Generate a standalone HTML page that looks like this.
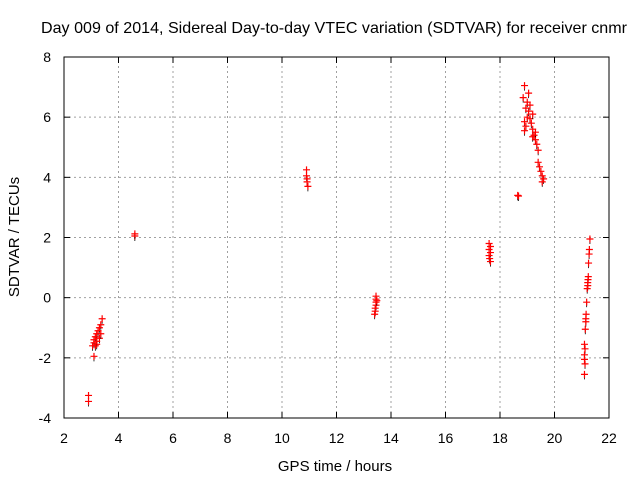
<!DOCTYPE html>
<html><head><meta charset="utf-8"><style>
body{margin:0;background:#fff;}
svg{display:block;font-family:"Liberation Sans",sans-serif;}
</style></head><body>
<svg id="chart" width="640" height="480" xmlns="http://www.w3.org/2000/svg">
<rect width="640" height="480" fill="#fff"/>
<text x="41" y="33" font-size="16" textLength="586" lengthAdjust="spacingAndGlyphs">Day 009 of 2014, Sidereal Day-to-day VTEC variation (SDTVAR) for receiver cnmr</text>
<g id="grid"></g>
<g id="ticks"></g>
<g id="pts"></g>
<rect x="64" y="57" width="545" height="361" fill="none" stroke="#000" stroke-width="1"/>
<text x="335" y="471" font-size="15" text-anchor="middle">GPS time / hours</text>
<text x="19" y="237" font-size="15" text-anchor="middle" transform="rotate(-90 19 237)">SDTVAR / TECUs</text>
</svg>
<script>
const xTicks=[2,4,6,8,10,12,14,16,18,20,22];
const yTicks=[-4,-2,0,2,4,6,8];
const timeHours=[2.9,2.9,3.1,3.05,3.1,3.1,3.15,3.2,3.2,3.25,3.3,3.3,3.35,3.4,3.35,3.2,3.15,
4.6,4.6,
10.9,10.9,10.92,10.92,10.95,
13.45,13.45,13.45,13.45,13.42,13.42,13.4,13.48,
17.6,17.65,17.6,17.65,17.6,17.62,17.65,
18.65,18.68,
18.9,18.85,19.0,18.95,19.05,19.1,19.0,18.9,18.95,18.9,19.1,19.15,19.2,19.2,19.25,19.3,19.35,19.4,19.4,19.45,19.5,19.55,19.6,19.55,19.05,19.2,19.3,
21.3,21.28,21.27,21.25,21.24,21.23,21.22,21.22,21.2,21.18,21.16,21.15,21.15,21.13,21.1,21.12,21.1,21.1,21.12,21.1];
const sdtvar=[-3.25,-3.45,-1.95,-1.6,-1.5,-1.4,-1.3,-1.55,-1.2,-1.1,-1.35,-1.0,-0.9,-0.7,-1.2,-1.45,-1.6,
2.05,2.12,
4.25,4.05,3.95,3.85,3.7,
0.05,-0.05,-0.15,-0.25,-0.35,-0.45,-0.55,-0.1,
1.8,1.7,1.6,1.5,1.4,1.3,1.2,
3.4,3.38,
7.05,6.65,6.5,6.3,6.2,6.4,6.0,5.85,5.7,5.55,5.95,5.8,6.1,5.6,5.4,5.25,5.1,4.9,4.5,4.35,4.2,4.05,3.95,3.85,6.8,5.35,5.5,
1.95,1.6,1.45,1.15,0.7,0.6,0.5,0.4,0.3,-0.15,-0.55,-0.7,-0.8,-1.05,-1.55,-1.7,-1.9,-2.05,-2.2,-2.55];
const NS="http://www.w3.org/2000/svg";
const X0=64,X1=609,Y0=418,Y1=57;
function sx(v){return X0+(v-2)/20*(X1-X0);}
function sy(v){return Y0-(v+4)/12*(Y0-Y1);}
function mk(tag,attrs,parent){const e=document.createElementNS(NS,tag);for(const k in attrs)e.setAttribute(k,attrs[k]);parent.appendChild(e);return e;}
const grid=document.getElementById('grid'),ticks=document.getElementById('ticks'),pts=document.getElementById('pts');
xTicks.forEach(t=>{const x=sx(t);
 if(t>2&&t<22){const g=mk('line',{x1:x,x2:x,y1:Y0,y2:Y1,stroke:'#a0a0a0','stroke-dasharray':'2,3'},grid);
 
 }
 mk('line',{x1:x,x2:x,y1:Y0,y2:Y0-6,stroke:'#000'},ticks);
 mk('line',{x1:x,x2:x,y1:Y1,y2:Y1+6,stroke:'#000'},ticks);
 const l=mk('text',{x:x,y:Y0+25,'font-size':'14','text-anchor':'middle'},ticks);l.textContent=t;
 
 
});
yTicks.forEach(t=>{const y=sy(t);
 if(t>-4&&t<8){const g=mk('line',{x1:X0,x2:X1,y1:y,y2:y,stroke:'#a0a0a0','stroke-dasharray':'2,3'},grid);
 
 }
 mk('line',{x1:X0,x2:X0+6,y1:y,y2:y,stroke:'#000'},ticks);
 mk('line',{x1:X1,x2:X1-6,y1:y,y2:y,stroke:'#000'},ticks);
 const l=mk('text',{x:X0-13,y:y+5,'font-size':'14','text-anchor':'end'},ticks);l.textContent=t;
 
 
});
timeHours.forEach((t,i)=>{const x=sx(t),y=sy(sdtvar[i]);
 const b=mk('path',{d:`M${x},${y}V${y+5}`,stroke:'#000','stroke-width':'0.8',fill:'none'},pts);
 
 
 const p=mk('path',{d:`M${x-3.5},${y}H${x+3.5}M${x},${y-3.5}V${y+3.5}`,stroke:'#ff0000','stroke-width':'1.2',fill:'none'},pts);
 
 
});
</script>
</body></html>
